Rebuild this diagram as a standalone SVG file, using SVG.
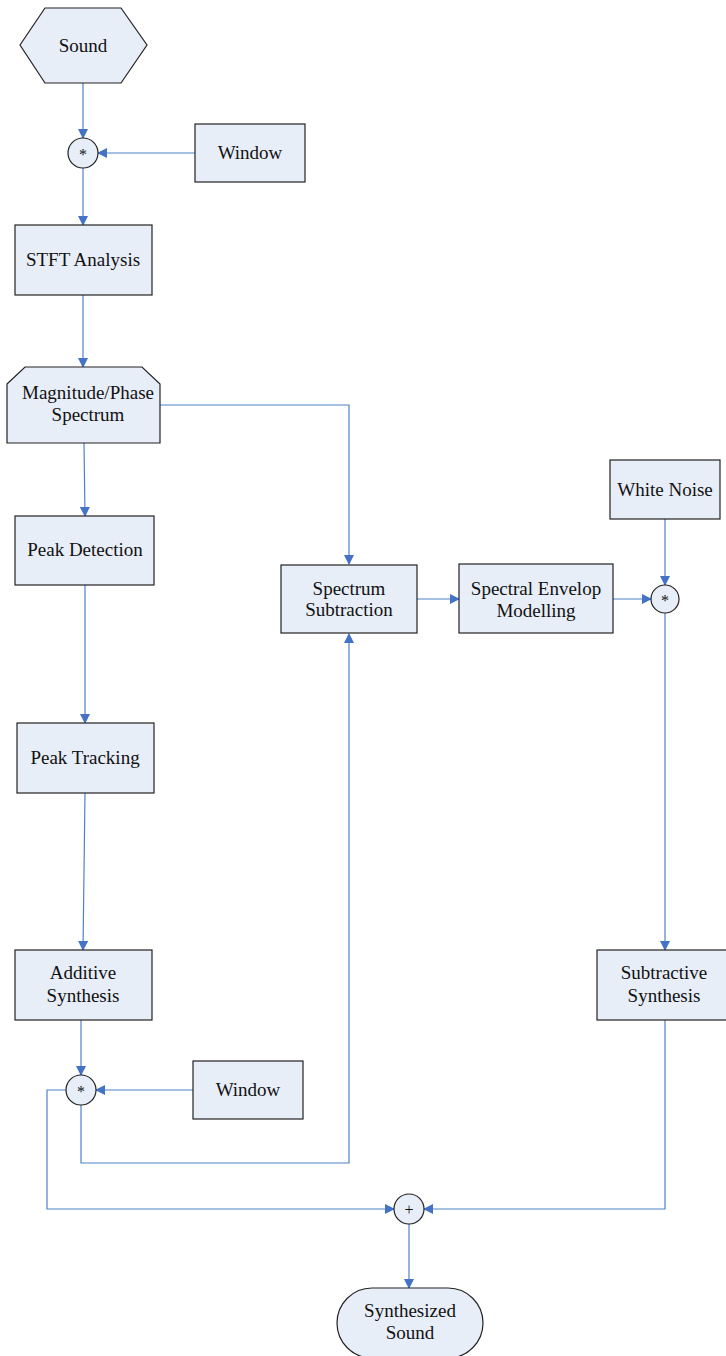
<svg xmlns="http://www.w3.org/2000/svg" width="726" height="1356" viewBox="0 0 726 1356">
<style>
.n{fill:#E8EEF8;stroke:#222;stroke-width:1.2}
.t{font-family:"Liberation Serif",serif;font-size:19px;fill:#111;text-anchor:middle}
.s{font-size:16px}
.c{fill:none;stroke:#4F81C8;stroke-width:1.2}
</style>
<defs>
<marker id="a" markerWidth="10" markerHeight="10" refX="9" refY="5" orient="auto" markerUnits="userSpaceOnUse">
<path d="M0,0 L10,5 L0,10 z" fill="#4472C4"/>
</marker>
</defs>
<rect width="726" height="1356" fill="#fff"/>
<g id="connectors">
<line class="c" x1="83" y1="83" x2="83" y2="138" marker-end="url(#a)"/>
<line class="c" x1="195" y1="153" x2="98" y2="153" marker-end="url(#a)"/>
<line class="c" x1="83" y1="168" x2="83" y2="225" marker-end="url(#a)"/>
<line class="c" x1="83" y1="295" x2="83" y2="367" marker-end="url(#a)"/>
<polyline class="c" points="160,405 349,405 349,564" marker-end="url(#a)"/>
<line class="c" x1="84" y1="443" x2="85" y2="516" marker-end="url(#a)"/>
<line class="c" x1="85" y1="585" x2="85" y2="723" marker-end="url(#a)"/>
<line class="c" x1="85" y1="793" x2="83" y2="950" marker-end="url(#a)"/>
<line class="c" x1="81" y1="1020" x2="81" y2="1075" marker-end="url(#a)"/>
<line class="c" x1="193" y1="1090" x2="96" y2="1090" marker-end="url(#a)"/>
<polyline class="c" points="81,1105 81,1163 349,1163 349,634" marker-end="url(#a)"/>
<polyline class="c" points="66,1090 47,1090 47,1209 394,1209" marker-end="url(#a)"/>
<line class="c" x1="417" y1="599" x2="459" y2="599" marker-end="url(#a)"/>
<line class="c" x1="613" y1="599" x2="651" y2="599" marker-end="url(#a)"/>
<line class="c" x1="665" y1="519" x2="665" y2="585" marker-end="url(#a)"/>
<line class="c" x1="665" y1="613" x2="665" y2="950" marker-end="url(#a)"/>
<polyline class="c" points="665,1020 665,1209 424,1209" marker-end="url(#a)"/>
<line class="c" x1="409" y1="1224" x2="409" y2="1288" marker-end="url(#a)"/>
</g>
<g id="sound"><polygon class="n" points="20,45 45,8 121,8 147,45 121,83 45,83"/><text class="t" x="83" y="52">Sound</text></g>
<g id="mul1"><circle class="n" cx="83" cy="153" r="15"/><text class="t s" x="83" y="160">*</text></g>
<g id="window1"><rect class="n" x="195" y="124" width="110" height="58"/><text class="t" x="250" y="159">Window</text></g>
<g id="stft"><rect class="n" x="15" y="225" width="137" height="70"/><text class="t" x="83" y="266">STFT Analysis</text></g>
<g id="magphase"><polygon class="n" points="7,384 25,367 142,367 160,384 160,443 7,443"/><text class="t" x="88" y="399">Magnitude/Phase</text><text class="t" x="88" y="421">Spectrum</text></g>
<g id="peakdet"><rect class="n" x="15" y="516" width="139" height="69"/><text class="t" x="85" y="556">Peak Detection</text></g>
<g id="specsub"><rect class="n" x="281" y="565" width="136" height="68"/><text class="t" x="349" y="595">Spectrum</text><text class="t" x="349" y="616">Subtraction</text></g>
<g id="specenv"><rect class="n" x="459" y="564" width="154" height="69"/><text class="t" x="536" y="595">Spectral Envelop</text><text class="t" x="536" y="617">Modelling</text></g>
<g id="whitenoise"><rect class="n" x="610" y="460" width="110" height="59"/><text class="t" x="665" y="496">White Noise</text></g>
<g id="mul2"><circle class="n" cx="665" cy="599" r="14"/><text class="t s" x="665" y="606">*</text></g>
<g id="peaktrack"><rect class="n" x="17" y="723" width="137" height="70"/><text class="t" x="85" y="764">Peak Tracking</text></g>
<g id="additive"><rect class="n" x="15" y="950" width="137" height="70"/><text class="t" x="83" y="979">Additive</text><text class="t" x="83" y="1002">Synthesis</text></g>
<g id="subtractive"><rect class="n" x="597" y="950" width="135" height="70"/><text class="t" x="664" y="979">Subtractive</text><text class="t" x="664" y="1002">Synthesis</text></g>
<g id="mul3"><circle class="n" cx="81" cy="1090" r="15"/><text class="t s" x="81" y="1097">*</text></g>
<g id="window2"><rect class="n" x="193" y="1061" width="110" height="58"/><text class="t" x="248" y="1096">Window</text></g>
<g id="plus"><circle class="n" cx="409" cy="1209" r="15"/><text class="t s" x="409" y="1215">+</text></g>
<g id="synth"><rect class="n" x="337" y="1288" width="146" height="70" rx="35" ry="35"/><text class="t" x="410" y="1317">Synthesized</text><text class="t" x="410" y="1339">Sound</text></g>
</svg>
